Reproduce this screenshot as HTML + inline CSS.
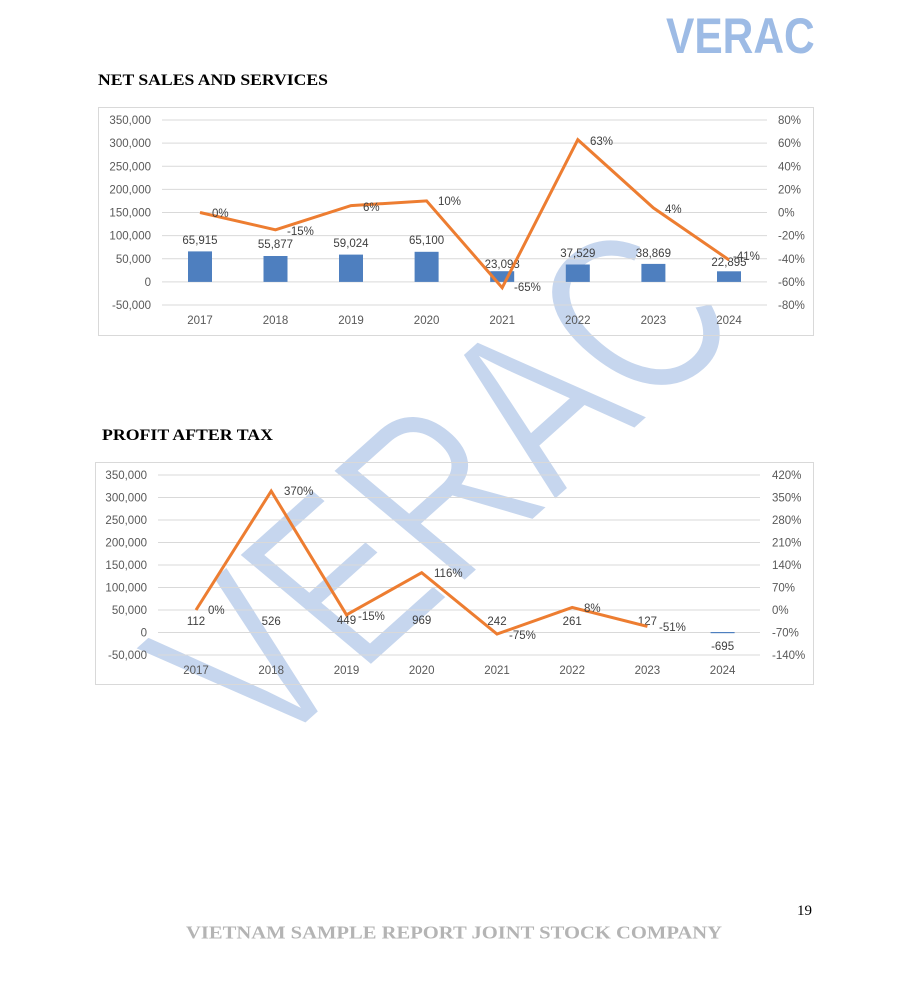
<!DOCTYPE html>
<html><head><meta charset="utf-8"><style>
html,body{margin:0;padding:0;background:#fff;}
svg{display:block;}
text{font-family:"Liberation Sans",sans-serif;}
.ax{font-size:11.5px;fill:#595959;}
.lab{font-size:11.5px;fill:#404040;}
</style></head><body>
<svg width="900" height="983" viewBox="0 0 900 983" xmlns="http://www.w3.org/2000/svg">
<rect width="900" height="983" fill="#fff"/>
<!-- watermark -->
<text transform="translate(266,760) scale(1.155,1) rotate(-46) scale(0.755,1)" x="0" y="0" font-size="232" fill="#c6d6ee" stroke="#ffffff" stroke-width="3" style="font-family:'Liberation Sans',sans-serif">VERAC</text>

<!-- logo -->
<text transform="translate(666,53) scale(0.85,1)" x="0" y="0" font-size="50" font-weight="bold" fill="#9dbbe5">VERAC</text>

<!-- headings -->
<text x="98" y="85" font-size="16" font-weight="bold" textLength="230" lengthAdjust="spacingAndGlyphs" style="font-family:'Liberation Serif',serif" fill="#000">NET SALES AND SERVICES</text>
<text x="102" y="440" font-size="16" font-weight="bold" textLength="171" lengthAdjust="spacingAndGlyphs" style="font-family:'Liberation Serif',serif" fill="#000">PROFIT AFTER TAX</text>

<!-- ============ CHART 1 ============ -->
<rect x="98.5" y="107.5" width="715" height="228" fill="none" stroke="#d9d9d9" stroke-width="1"/>
<g stroke="#d9d9d9" stroke-width="1">
<line x1="162" x2="767" y1="120" y2="120"/>
<line x1="162" x2="767" y1="143.1" y2="143.1"/>
<line x1="162" x2="767" y1="166.3" y2="166.3"/>
<line x1="162" x2="767" y1="189.4" y2="189.4"/>
<line x1="162" x2="767" y1="212.5" y2="212.5"/>
<line x1="162" x2="767" y1="235.6" y2="235.6"/>
<line x1="162" x2="767" y1="258.8" y2="258.8"/>
<line x1="162" x2="767" y1="281.9" y2="281.9"/>
<line x1="162" x2="767" y1="305" y2="305"/>
</g>
<g class="ax" text-anchor="end">
<text x="151" y="124">350,000</text>
<text x="151" y="147.1">300,000</text>
<text x="151" y="170.3">250,000</text>
<text x="151" y="193.4">200,000</text>
<text x="151" y="216.5">150,000</text>
<text x="151" y="239.6">100,000</text>
<text x="151" y="262.8">50,000</text>
<text x="151" y="285.9">0</text>
<text x="151" y="309">-50,000</text>
</g>
<g class="ax" text-anchor="start">
<text x="778" y="124">80%</text>
<text x="778" y="147.1">60%</text>
<text x="778" y="170.3">40%</text>
<text x="778" y="193.4">20%</text>
<text x="778" y="216.5">0%</text>
<text x="778" y="239.6">-20%</text>
<text x="778" y="262.8">-40%</text>
<text x="778" y="285.9">-60%</text>
<text x="778" y="309">-80%</text>
</g>
<g class="ax" text-anchor="middle">
<text x="200" y="324">2017</text>
<text x="275.5" y="324">2018</text>
<text x="351" y="324">2019</text>
<text x="426.6" y="324">2020</text>
<text x="502.2" y="324">2021</text>
<text x="577.8" y="324">2022</text>
<text x="653.4" y="324">2023</text>
<text x="729" y="324">2024</text>
</g>
<g fill="#4e7fbf">
<rect x="188" y="251.4" width="24" height="30.5"/>
<rect x="263.5" y="256" width="24" height="25.9"/>
<rect x="339" y="254.6" width="24" height="27.3"/>
<rect x="414.6" y="251.8" width="24" height="30.1"/>
<rect x="490.2" y="271.2" width="24" height="10.7"/>
<rect x="565.8" y="264.5" width="24" height="17.4"/>
<rect x="641.4" y="263.9" width="24" height="18"/>
<rect x="717" y="271.3" width="24" height="10.6"/>
</g>
<g class="lab" text-anchor="middle">
<text x="200" y="244">65,915</text>
<text x="275.5" y="248">55,877</text>
<text x="351" y="247">59,024</text>
<text x="426.6" y="244">65,100</text>
<text x="502.2" y="268">23,093</text>
<text x="577.8" y="257">37,529</text>
<text x="653.4" y="257">38,869</text>
<text x="729" y="266">22,895</text>
</g>
<polyline fill="none" stroke="#ed7d31" stroke-width="3" stroke-linejoin="miter" points="200,212.5 275.5,229.8 351,205.6 426.6,200.9 502.2,287.7 577.8,139.7 653.4,207.9 729,259.9"/>
<g class="lab" text-anchor="start">
<text x="212" y="217">0%</text>
<text x="287" y="235">-15%</text>
<text x="363" y="211">6%</text>
<text x="438" y="205">10%</text>
<text x="514" y="291">-65%</text>
<text x="590" y="145">63%</text>
<text x="665" y="213">4%</text>
<text x="733" y="260">-41%</text>
</g>

<!-- ============ CHART 2 ============ -->
<rect x="95.5" y="462.5" width="718" height="222" fill="none" stroke="#d9d9d9" stroke-width="1"/>
<g stroke="#d9d9d9" stroke-width="1">
<line x1="158" x2="760" y1="475" y2="475"/>
<line x1="158" x2="760" y1="497.5" y2="497.5"/>
<line x1="158" x2="760" y1="520" y2="520"/>
<line x1="158" x2="760" y1="542.5" y2="542.5"/>
<line x1="158" x2="760" y1="565" y2="565"/>
<line x1="158" x2="760" y1="587.5" y2="587.5"/>
<line x1="158" x2="760" y1="610" y2="610"/>
<line x1="158" x2="760" y1="632.5" y2="632.5"/>
<line x1="158" x2="760" y1="655" y2="655"/>
</g>
<g class="ax" text-anchor="end">
<text x="147" y="479">350,000</text>
<text x="147" y="501.5">300,000</text>
<text x="147" y="524">250,000</text>
<text x="147" y="546.5">200,000</text>
<text x="147" y="569">150,000</text>
<text x="147" y="591.5">100,000</text>
<text x="147" y="614">50,000</text>
<text x="147" y="636.5">0</text>
<text x="147" y="659">-50,000</text>
</g>
<g class="ax" text-anchor="start">
<text x="772" y="479">420%</text>
<text x="772" y="501.5">350%</text>
<text x="772" y="524">280%</text>
<text x="772" y="546.5">210%</text>
<text x="772" y="569">140%</text>
<text x="772" y="591.5">70%</text>
<text x="772" y="614">0%</text>
<text x="772" y="636.5">-70%</text>
<text x="772" y="659">-140%</text>
</g>
<g class="ax" text-anchor="middle">
<text x="196" y="674">2017</text>
<text x="271.2" y="674">2018</text>
<text x="346.5" y="674">2019</text>
<text x="421.7" y="674">2020</text>
<text x="497" y="674">2021</text>
<text x="572.2" y="674">2022</text>
<text x="647.4" y="674">2023</text>
<text x="722.6" y="674">2024</text>
</g>
<rect x="710.6" y="632" width="24" height="1.2" fill="#4e7fbf"/>
<g class="lab" text-anchor="middle">
<text x="196" y="625">112</text>
<text x="271.2" y="625">526</text>
<text x="346.5" y="624">449</text>
<text x="421.7" y="624">969</text>
<text x="497" y="625">242</text>
<text x="572.2" y="625">261</text>
<text x="647.4" y="625">127</text>
<text x="722.6" y="650">-695</text>
</g>
<polyline fill="none" stroke="#ed7d31" stroke-width="3" stroke-linejoin="miter" points="196,610 271.2,491.1 346.5,614.8 421.7,572.7 497,634.1 572.2,607.4 647.4,626.4"/>
<g class="lab" text-anchor="start">
<text x="208" y="614">0%</text>
<text x="284" y="495">370%</text>
<text x="358" y="620">-15%</text>
<text x="434" y="577">116%</text>
<text x="509" y="639">-75%</text>
<text x="584" y="612">8%</text>
<text x="659" y="631">-51%</text>
</g>

<!-- footer -->
<text x="797" y="915" font-size="15" style="font-family:'Liberation Serif',serif" fill="#000">19</text>
<text x="186" y="938.5" font-size="18" font-weight="bold" textLength="536" lengthAdjust="spacingAndGlyphs" style="font-family:'Liberation Serif',serif" fill="#b4b4b4">VIETNAM SAMPLE REPORT JOINT STOCK COMPANY</text>
</svg>
</body></html>
